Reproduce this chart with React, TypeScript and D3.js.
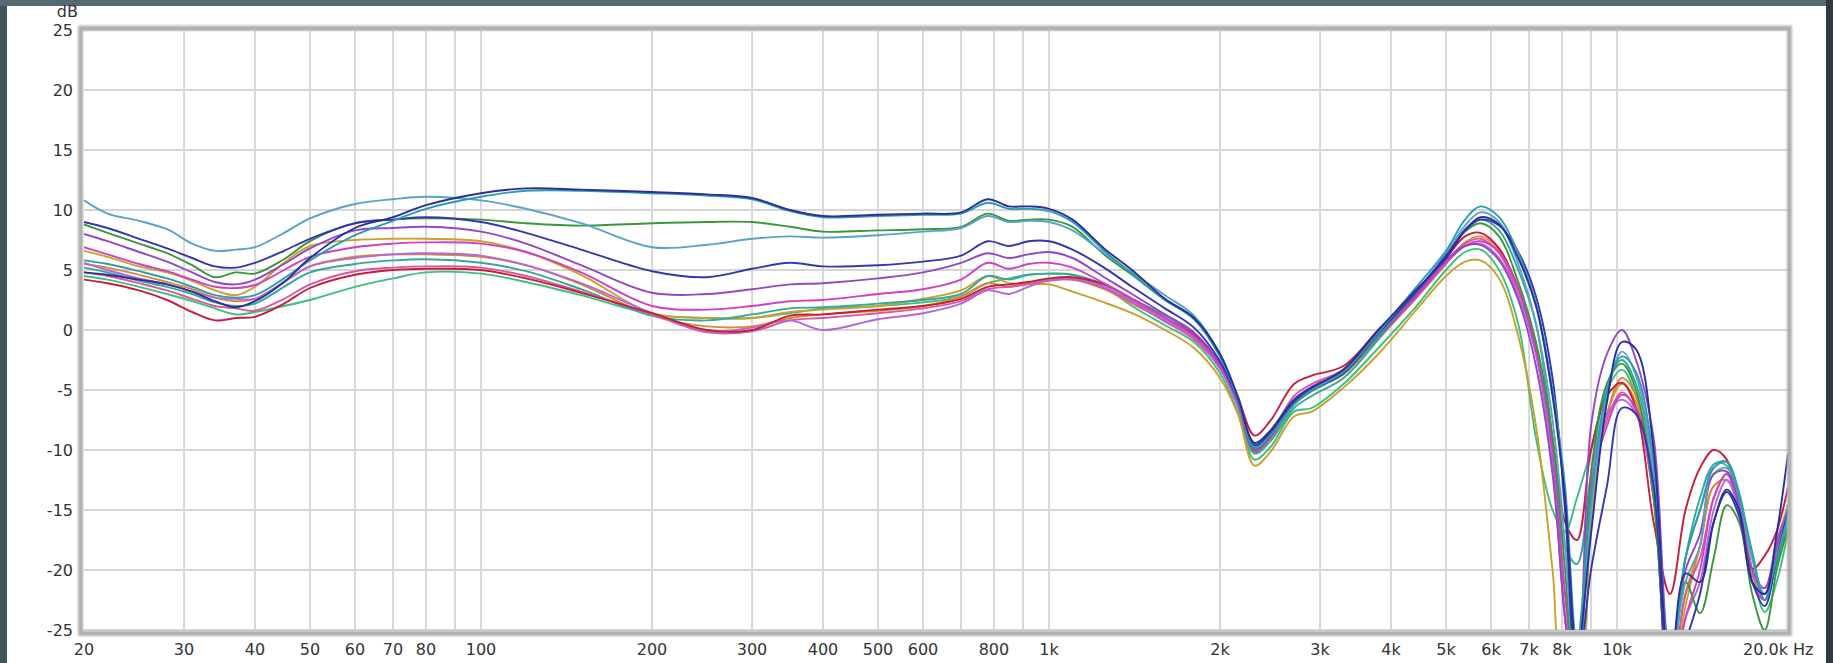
import React from "react";
import * as d3 from "d3";

// Frequency grid (Hz) shared by all series
const FREQS = [
  20, 22, 25, 28, 31, 34, 37, 40, 45, 50,
  60, 70, 80, 100, 120, 150, 200, 250, 300, 350,
  400, 500, 600, 700, 780, 850, 920, 1000, 1100, 1250,
  1400, 1600, 1800, 2000, 2150, 2300, 2450, 2700, 2900, 3300,
  3800, 4400, 5000, 5400, 5750, 6200, 6700, 7200, 7700, 8100,
  8500, 9000, 9600, 10200, 10800, 11600, 12400, 13200, 14000,
  14800, 15600, 16400, 17300, 18200, 19100, 20000,
];

// dB values per measurement
const lightBlue = [
  10.8, 9.7, 9.1, 8.4, 7.2, 6.6, 6.7, 6.9, 8.1, 9.3,
  10.5, 10.9, 11.1, 10.8, 10.1, 8.9, 6.9, 7.1, 7.6, 7.8,
  7.7, 7.9, 8.2, 8.5, 9.5, 9.0, 9.1, 9.0, 8.3, 6.4,
  4.8, 2.9, 1.2, -2.0, -5.6, -9.7, -8.6, -6.0, -5.0, -3.6,
  -0.4, 3.0, 6.4, 8.7, 9.8, 9.0, 5.5, 0.5, -7.5, -18,
  -30, -15, -5.5, -1.8, -3.8, -12, -28, -21, -18,
  -11.2, -11.3, -14, -19, -22, -19, -14.5,
];
const navyRiser = [
  4.8, 4.6, 4.2, 3.8, 3.2, 2.4, 1.9, 2.4, 4.0, 6.0,
  8.5, 9.4, 10.4, 11.4, 11.8, 11.7, 11.5, 11.3, 11.0, 10.0,
  9.5, 9.6, 9.7, 9.8, 10.9, 10.3, 10.3, 10.1, 9.2, 6.8,
  5.0, 2.6, 1.0, -2.0, -5.6, -9.4, -8.4, -5.8, -4.8, -3.3,
  0.0, 3.2, 6.0, 8.3, 9.4, 8.8, 6.0, 2.0, -5.5, -14,
  -27, -17, -6, -1.0, -1.6, -10, -29, -20.3, -21,
  -16, -13.3, -15, -21, -22, -17, -10.3,
];
const tealTwin = [
  5.8, 5.5, 4.9, 4.3, 3.6, 2.9, 2.7, 2.9, 4.3, 5.8,
  7.9, 9.1, 10.1, 11.1, 11.6, 11.6, 11.4, 11.2, 10.9, 9.9,
  9.4, 9.5, 9.6, 9.7, 10.6, 10.1, 10.1, 9.9, 9.0, 6.6,
  4.7, 2.5, 0.9, -2.2, -5.8, -9.8, -8.8, -6.2, -5.0, -3.5,
  -0.2, 3.4, 6.6, 9.2, 10.3, 9.4, 6.4, 2.2, -5, -13,
  -26, -14, -5, -2.2, -3.5, -11, -28, -19, -15,
  -11.5, -11, -13.8, -18.5, -22.5, -19, -15.5,
];
const navy2 = [
  9.0, 8.5, 7.6, 6.8, 6.0, 5.3, 5.2, 5.6, 6.6, 7.6,
  8.9, 9.2, 9.4, 9.0, 8.1, 6.7, 4.9, 4.4, 5.1, 5.6,
  5.3, 5.4, 5.7, 6.2, 7.4, 7.0, 7.4, 7.4, 6.7, 5.2,
  3.6, 1.8, 0.2, -2.6, -5.8, -9.6, -8.6, -6.0, -5.0, -3.6,
  -0.3, 3.0, 6.2, 8.3, 9.2, 8.7, 6.5, 2.8, -4, -15,
  -29, -20, -13, -6.5, -7.0, -13, -30, -26, -22,
  -16, -13.5, -15.5, -21, -23, -19, -15,
];
const green = [
  8.8, 8.1, 7.2, 6.4, 5.4, 4.4, 4.8, 4.7, 5.9, 7.4,
  8.9, 9.2, 9.3, 9.2, 8.9, 8.7, 8.9, 9.0, 9.0, 8.6,
  8.2, 8.3, 8.4, 8.6, 9.7, 9.1, 9.2, 9.2, 8.6, 6.3,
  4.6, 2.5, 1.0, -2.2, -5.5, -9.9, -8.8, -6.2, -5.1, -3.6,
  -0.5, 3.0, 6.2, 8.2, 8.9, 7.8, 4.0, -1.0, -9, -20,
  -32, -12, -4.5, -2.8, -5, -14, -30, -21, -23.6,
  -19, -14.6, -16, -22, -25, -20, -16.5,
];
const violet = [
  8.0, 7.4, 6.5, 5.7, 4.8, 4.0, 3.8, 4.2, 5.5, 6.8,
  8.3, 8.5, 8.6, 8.2, 7.2, 5.4, 3.1, 3.0, 3.4, 3.8,
  3.9, 4.3, 4.8, 5.6, 6.4, 6.0, 6.3, 6.5, 6.0, 4.4,
  3.0, 1.3, -0.2, -2.8, -6.0, -10.0, -8.9, -6.0, -4.9, -3.6,
  -0.5, 2.8, 5.8, 7.0, 7.1, 5.8, 2.5, -3.0, -12, -24,
  -31, -8, -2, 0.0, -2.5, -9, -27, -20, -17,
  -12, -11.8, -14.5, -20, -21.5, -18, -15,
];
const magenta = [
  6.9, 6.3, 5.5, 4.9, 4.2, 3.6, 3.5, 3.75, 5.0, 6.1,
  6.9, 7.2, 7.3, 7.2, 6.5, 4.8, 2.0, 1.7, 2.0, 2.4,
  2.5, 3.0, 3.4, 4.2, 5.6, 5.1, 5.5, 5.6, 5.2, 3.9,
  2.6, 1.0, -0.5, -3.0, -6.0, -10.1, -9.0, -6.0, -4.8, -3.5,
  -0.6, 2.6, 5.6, 7.0, 7.4, 6.5, 3.5, -1.5, -10, -22,
  -30, -13, -8, -5.4, -6.5, -13, -30, -24, -20,
  -14, -12, -14.5, -21, -22.5, -18, -15.5,
];
const gold = [
  6.6, 6.1, 5.3, 4.8, 4.1, 3.3, 2.9, 3.6, 5.6, 7.0,
  7.5, 7.6, 7.6, 7.4, 6.5, 4.6, 1.4, 1.0, 1.0, 1.5,
  1.7, 2.0, 2.6, 3.3, 4.5, 3.9, 3.8, 3.8, 3.2, 2.3,
  1.4, 0.0, -1.5, -4.0, -7.0, -11.3, -10.2, -7.2, -6.8, -4.8,
  -2.0, 1.5, 4.5, 5.7, 5.8, 4.3, -0.5, -8, -20, -30,
  -30, -16, -7, -4.5, -6, -14, -30, -23, -18,
  -13, -12.5, -14.5, -20, -22.5, -19, -16.5,
];
const orange = [
  5.5, 5.2, 4.6, 4.0, 3.4, 2.7, 2.4, 2.6, 4.0, 5.3,
  6.1, 6.3, 6.3, 6.1, 5.4, 3.8, 1.2, 0.3, 0.3, 1.0,
  1.3, 1.6, 2.0, 2.8, 3.9, 3.6, 3.9, 4.2, 4.2, 3.4,
  2.2, 0.8, -0.6, -3.2, -6.3, -10.2, -9.1, -6.2, -5.0, -3.7,
  -0.7, 2.5, 5.5, 7.3, 7.8, 6.7, 3.5, -1.5, -10, -22,
  -30, -14, -7, -4.0, -5.5, -13, -29, -22, -18,
  -13, -12.5, -14.8, -21, -22, -18, -14.5,
];
const teal = [
  5.2, 4.8, 4.1, 3.6, 3.0, 2.3, 2.0, 2.2, 3.6, 4.8,
  5.5, 5.8, 5.9, 5.6, 4.9, 3.4, 1.2, 0.8, 1.3, 1.8,
  1.9, 2.2, 2.5, 3.0, 4.5, 4.2, 4.6, 4.7, 4.6, 3.8,
  2.6, 1.2, -0.3, -3.0, -6.2, -10.3, -9.3, -6.5, -5.5, -4.0,
  -0.8, 2.8, 6.0, 8.4, 9.2, 8.3, 5.0, 0.5, -9, -18,
  -19.5, -12, -4.5, -2.5, -4.5, -12, -28, -19, -14,
  -11.2, -11, -13.5, -19, -22.5, -19.5, -16,
];
const red = [
  4.2, 3.9, 3.3, 2.5, 1.5, 0.8, 1.0, 1.1, 2.2, 3.5,
  4.6, 5.0, 5.1, 5.0, 4.3, 3.1, 1.4, 0.0, 0.0, 1.2,
  1.3, 1.7, 2.0, 2.6, 3.6, 3.8, 4.0, 4.3, 4.4, 3.8,
  2.6, 1.0, -0.4, -2.8, -5.6, -8.8, -7.6, -4.5, -3.8, -3.0,
  0.0, 3.0, 6.0, 7.8, 8.1, 6.8, 3.5, -1.5, -9, -16,
  -17.5, -10, -5.5, -4.4, -6.5, -16, -22, -15, -11.5,
  -10, -10.8, -14.7, -19.9, -18.8, -16.8, -13.1,
];
const seaGreen = [
  4.5, 4.2, 3.6, 3.0, 2.4, 1.8, 1.3, 1.5, 2.0, 2.5,
  3.6, 4.3, 4.8, 4.7, 4.0, 2.9, 1.3, 1.0, 1.0, 1.4,
  1.8, 2.0, 2.3, 2.8, 3.9, 4.3, 4.6, 4.7, 4.6, 3.6,
  2.0, 0.4, -1.0, -3.6, -6.8, -10.8, -9.8, -6.8, -6.5, -4.5,
  -1.5, 1.8, 5.0, 6.5, 6.7, 5.0, 0.5, -9, -15, -16.8,
  -14, -10, -5, -3.3, -5.5, -13, -27, -19, -15,
  -12, -11.5, -14, -20, -23.5, -21, -16.8,
];
const lavender = [
  5.6, 5.0, 4.3, 3.8, 3.2, 2.7, 2.6, 2.6, 4.0, 5.3,
  6.0, 6.3, 6.4, 6.2, 5.4, 3.9, 1.4, -0.1, 0.2, 0.8,
  0.0, 0.9, 1.4, 2.2, 3.3, 3.0, 3.6, 4.2, 4.3, 3.6,
  2.4, 0.8, -0.6, -3.2, -6.3, -10.0, -8.9, -5.8, -4.7, -3.4,
  -0.4, 2.6, 5.6, 7.0, 7.2, 6.0, 2.8, -2, -11, -24,
  -30, -12, -7, -5.8, -7, -14, -30, -24, -21,
  -15, -12.5, -15, -21, -22, -18.5, -15.5,
];
const pink = [
  4.8, 4.5, 3.9, 3.3, 2.6, 2.0, 1.8, 1.6, 2.6, 3.8,
  4.9, 5.2, 5.3, 5.2, 4.5, 3.2, 1.3, -0.2, -0.1, 0.8,
  1.0, 1.4, 1.8, 2.4, 3.4, 3.6, 3.8, 4.1, 4.2, 3.5,
  2.3, 0.7, -0.8, -3.2, -6.2, -9.8, -8.7, -5.5, -4.5, -3.3,
  -0.2, 2.8, 5.8, 7.2, 7.6, 6.4, 3.0, -2, -11, -24,
  -31, -13, -7.5, -5.2, -6.8, -14, -30, -22, -19,
  -14, -12, -14.8, -20.5, -21.5, -17.5, -15,
];

const SERIES = [
  { values: seaGreen, color: "#3dbf80" },
  { values: gold, color: "#c9a22b" },
  { values: orange, color: "#d98a2e" },
  { values: teal, color: "#35a89a" },
  { values: pink, color: "#d65a9e" },
  { values: lavender, color: "#b268dc" },
  { values: red, color: "#c41f3e" },
  { values: magenta, color: "#d040c2" },
  { values: violet, color: "#9447c4" },
  { values: green, color: "#3a983a" },
  { values: lightBlue, color: "#5aa3c8" },
  { values: navy2, color: "#3436b0" },
  { values: tealTwin, color: "#2f9cae" },
  { values: navyRiser, color: "#2a2f9a" },
];

const DB_TICKS = [25, 20, 15, 10, 5, 0, -5, -10, -15, -20, -25];
const FREQ_GRID = [
  30, 40, 50, 60, 70, 80, 90, 100, 200, 300, 400, 500, 600, 700, 800, 900,
  1000, 2000, 3000, 4000, 5000, 6000, 7000, 8000, 9000, 10000,
];
const FREQ_LABEL_VALUES = [
  20, 30, 40, 50, 60, 70, 80, 100, 200, 300, 400, 500, 600, 800, 1000,
  2000, 3000, 4000, 5000, 6000, 7000, 8000, 10000,
];
const FREQ_LABEL_TEXT = [
  "20", "30", "40", "50", "60", "70", "80", "100", "200", "300", "400", "500",
  "600", "800", "1k", "2k", "3k", "4k", "5k", "6k", "7k", "8k", "10k",
];

const W = 1833;
const H = 663;
const PL = 84, PR = 1788, PT = 30, PB = 630;

export default function App() {
  const x = d3.scaleLog().domain([20, 20000]).range([PL, PR]);
  const y = d3.scaleLinear().domain([-25, 25]).range([PB, PT]);
  const line = d3
    .line<number>()
    .x((_, i) => x(FREQS[i]))
    .y((d) => y(d))
    .curve(d3.curveCatmullRom.alpha(0.5));
  const font = "'DejaVu Sans', 'Liberation Sans', sans-serif";

  return (
    <svg
      width={W}
      height={H}
      style={{ position: "absolute", left: 0, top: 0, display: "block" }}
    >
      <defs>
        <clipPath id="plotClip">
          <rect x={PL} y={PT} width={PR - PL} height={PB - PT} />
        </clipPath>
        <filter id="frameBlur" x="-5%" y="-5%" width="110%" height="110%">
          <feGaussianBlur stdDeviation="1.3" />
        </filter>
      </defs>
      <rect x={0} y={0} width={W} height={H} fill="#44545c" />
      <rect x={0} y={0} width={W} height={6} fill="#566871" />
      <rect x={1826} y={0} width={7} height={H} fill="#2f3b41" />
      <rect x={7} y={6} width={1819} height={H - 6} fill="#ffffff" />

      {/* grid */}
      <g stroke="#d5d5d5" strokeWidth={1.8}>
        {DB_TICKS.map((d) => (
          <line key={"h" + d} x1={PL} x2={PR} y1={y(d)} y2={y(d)} />
        ))}
        {FREQ_GRID.map((f) => (
          <line key={"v" + f} x1={x(f)} x2={x(f)} y1={PT} y2={PB} />
        ))}
      </g>

      {/* curves */}
      <g clipPath="url(#plotClip)" fill="none" strokeWidth={1.9} strokeLinejoin="round">
        {SERIES.map((s, i) => (
          <path key={i} d={line(s.values) || ""} stroke={s.color} />
        ))}
      </g>

      {/* frame */}
      <rect
        x={80.5}
        y={28}
        width={1709}
        height={605.5}
        fill="none"
        stroke="#b4b4b4"
        strokeWidth={5}
        filter="url(#frameBlur)"
      />
      <rect x={81} y={28.5} width={1708} height={604.5} fill="none" stroke="#b0b0b0" strokeWidth={2.5} />

      {/* y labels */}
      <g fontFamily={font} fontSize={16} fill="#333333" textAnchor="end">
        {DB_TICKS.map((d) => (
          <text key={"yl" + d} x={73} y={y(d)} dy="0.36em">
            {String(d)}
          </text>
        ))}
        <text x={78} y={17}>dB</text>
      </g>

      {/* x labels */}
      <g fontFamily={font} fontSize={16} fill="#333333" textAnchor="middle">
        {FREQ_LABEL_VALUES.map((f, i) => (
          <text key={"xl" + f} x={x(f)} y={655}>
            {FREQ_LABEL_TEXT[i]}
          </text>
        ))}
        <text x={1743} y={655} textAnchor="start">20.0k Hz</text>
      </g>
    </svg>
  );
}
